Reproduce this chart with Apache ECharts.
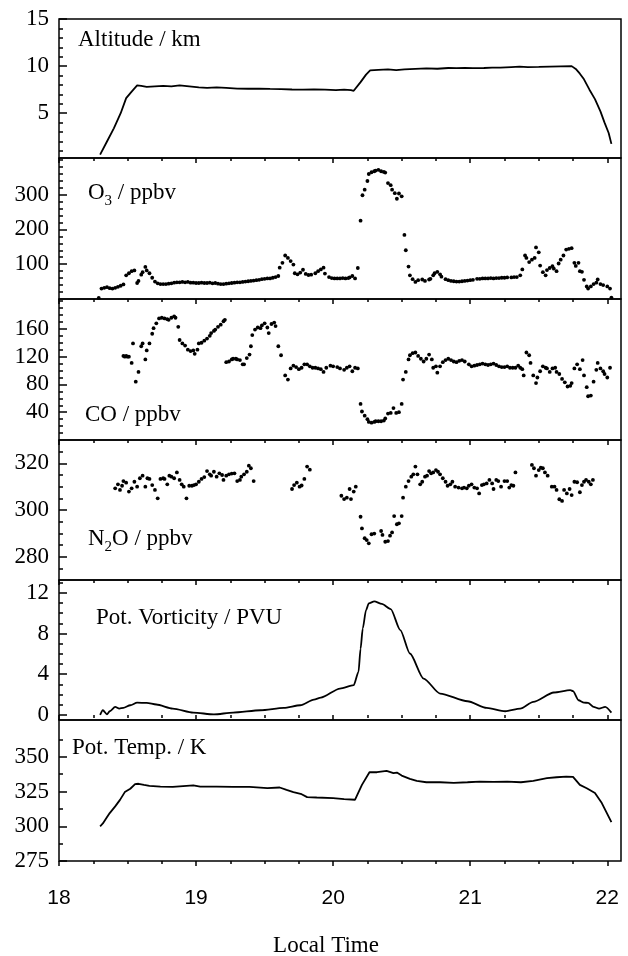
<!DOCTYPE html>
<html><head><meta charset="utf-8">
<script src="https://cdn.jsdelivr.net/npm/echarts@6/dist/echarts.min.js"></script>
<style>html,body{margin:0;padding:0;background:#fff}#c{width:628px;height:956px}</style>
</head><body><div id="c"></div>
<script>
// ---------------- DATA (time in hours local, value) ----------------
const altitude = [[18.30,0.6],[18.35,2.0],[18.40,3.4],[18.45,5.0],[18.49,6.6],[18.53,7.3],[18.57,7.95],[18.60,7.9],[18.64,7.8],[18.70,7.85],[18.76,7.9],[18.82,7.85],[18.88,7.95],[18.95,7.85],[19.02,7.75],[19.08,7.7],[19.15,7.75],[19.22,7.7],[19.30,7.62],[19.38,7.6],[19.46,7.62],[19.54,7.58],[19.62,7.55],[19.70,7.52],[19.78,7.5],[19.86,7.52],[19.94,7.5],[20.02,7.45],[20.08,7.5],[20.13,7.45],[20.15,7.38],[20.20,8.3],[20.24,9.1],[20.27,9.55],[20.33,9.6],[20.40,9.65],[20.46,9.58],[20.52,9.65],[20.60,9.7],[20.68,9.75],[20.76,9.72],[20.84,9.8],[20.90,9.78],[20.96,9.82],[21.02,9.78],[21.10,9.8],[21.16,9.85],[21.22,9.83],[21.30,9.9],[21.36,9.95],[21.42,9.9],[21.50,9.92],[21.58,9.95],[21.66,9.98],[21.74,10.0],[21.77,9.7],[21.80,9.2],[21.83,8.6],[21.87,7.5],[21.91,6.5],[21.95,5.2],[21.98,4.0],[22.01,2.9],[22.03,1.75]];

const ozone = [[18.29,3],[18.31,30],[18.33,32],[18.35,34],[18.37,31],[18.39,30],[18.41,32],[18.43,35],[18.45,38],[18.47,42],[18.49,68],[18.51,74],[18.53,80],[18.55,82],[18.57,46],[18.58,52],[18.60,70],[18.61,77],[18.63,92],[18.64,82],[18.66,74],[18.68,61],[18.70,50],[18.72,45],[18.74,43],[18.76,43],[18.78,43],[18.80,44],[18.82,45],[18.84,47],[18.86,48],[18.88,48],[18.90,49],[18.92,48],[18.94,49],[18.96,47],[18.98,47],[19.00,46],[19.02,46],[19.04,47],[19.06,46],[19.08,46],[19.10,47],[19.12,45],[19.14,46],[19.16,44],[19.18,43],[19.20,43],[19.22,44],[19.24,45],[19.26,46],[19.28,47],[19.30,48],[19.32,48],[19.34,49],[19.36,50],[19.38,51],[19.40,52],[19.42,53],[19.44,54],[19.46,55],[19.48,57],[19.50,58],[19.52,59],[19.54,59],[19.56,61],[19.58,63],[19.60,66],[19.61,90],[19.63,104],[19.65,125],[19.67,118],[19.69,109],[19.71,99],[19.72,74],[19.74,71],[19.76,76],[19.78,84],[19.80,72],[19.82,69],[19.84,70],[19.87,74],[19.89,80],[19.91,85],[19.93,90],[19.94,73],[19.97,63],[19.99,60],[20.01,59],[20.03,59],[20.05,59],[20.07,60],[20.09,59],[20.11,60],[20.12,62],[20.14,66],[20.16,59],[20.18,89],[20.20,225],[20.214,298],[20.23,314],[20.25,339],[20.26,359],[20.28,364],[20.30,367],[20.31,369],[20.33,371],[20.35,367],[20.37,365],[20.38,363],[20.40,333],[20.42,327],[20.43,314],[20.45,304],[20.465,288],[20.48,303],[20.50,295],[20.52,184],[20.53,140],[20.55,93],[20.56,68],[20.58,57],[20.60,49],[20.62,54],[20.65,56],[20.67,52],[20.70,56],[20.71,58],[20.73,68],[20.74,74],[20.76,78],[20.78,71],[20.79,64],[20.82,57],[20.84,54],[20.86,52],[20.88,51],[20.90,50],[20.92,50],[20.94,51],[20.96,52],[20.98,53],[21.00,54],[21.02,55],[21.05,58],[21.07,58],[21.09,59],[21.11,59],[21.13,59],[21.15,60],[21.17,59],[21.19,60],[21.21,60],[21.23,61],[21.25,61],[21.27,62],[21.30,62],[21.32,63],[21.34,63],[21.365,68],[21.38,85],[21.40,125],[21.41,118],[21.43,106],[21.45,113],[21.47,118],[21.48,148],[21.50,134],[21.51,96],[21.53,77],[21.55,68],[21.56,83],[21.58,89],[21.60,94],[21.61,87],[21.63,80],[21.645,102],[21.66,113],[21.68,125],[21.70,142],[21.72,144],[21.74,146],[21.76,104],[21.77,95],[21.79,104],[21.80,80],[21.815,78],[21.83,55],[21.85,36],[21.86,30],[21.88,36],[21.90,43],[21.92,47],[21.93,56],[21.95,43],[21.97,40],[22.00,36],[22.02,30],[22.03,4]];

const carbonMonoxide = [[18.47,121],[18.48,120],[18.49,121],[18.50,120],[18.51,120],[18.53,111],[18.54,139],[18.56,84],[18.58,98],[18.60,135],[18.61,139],[18.63,116],[18.64,129],[18.66,139],[18.68,153],[18.69,161],[18.71,168],[18.73,175],[18.75,176],[18.77,175],[18.79,174],[18.80,173],[18.82,176],[18.84,178],[18.85,176],[18.87,163],[18.88,144],[18.90,139],[18.92,136],[18.94,130],[18.96,128],[18.98,129],[18.99,124],[19.01,130],[19.02,139],[19.04,140],[19.06,143],[19.08,146],[19.10,150],[19.11,154],[19.13,157],[19.14,159],[19.16,163],[19.18,166],[19.20,171],[19.21,173],[19.22,112],[19.24,113],[19.26,116],[19.27,117],[19.29,117],[19.30,116],[19.32,115],[19.34,109],[19.35,109],[19.37,118],[19.39,123],[19.40,135],[19.41,151],[19.43,159],[19.45,162],[19.47,161],[19.48,165],[19.50,168],[19.52,162],[19.53,154],[19.55,167],[19.57,169],[19.58,164],[19.60,135],[19.62,122],[19.65,93],[19.67,87],[19.69,103],[19.71,107],[19.73,105],[19.75,102],[19.77,104],[19.79,109],[19.81,109],[19.83,106],[19.85,104],[19.87,104],[19.89,103],[19.91,102],[19.93,98],[19.95,104],[19.98,107],[20.00,106],[20.03,105],[20.05,103],[20.08,101],[20.10,104],[20.12,106],[20.14,99],[20.16,104],[20.18,103],[20.20,52],[20.21,41],[20.23,35],[20.25,30],[20.26,26],[20.28,25],[20.30,26],[20.31,27],[20.33,27],[20.35,27],[20.37,28],[20.38,31],[20.40,38],[20.42,39],[20.44,46],[20.46,39],[20.48,40],[20.50,52],[20.51,87],[20.53,98],[20.55,116],[20.56,122],[20.58,125],[20.60,126],[20.62,121],[20.64,117],[20.66,113],[20.68,117],[20.70,123],[20.72,116],[20.73,104],[20.75,106],[20.76,97],[20.78,106],[20.80,112],[20.82,115],[20.84,117],[20.86,115],[20.88,113],[20.90,112],[20.92,114],[20.94,115],[20.96,113],[20.99,109],[21.01,106],[21.03,107],[21.05,108],[21.07,109],[21.09,110],[21.11,109],[21.13,108],[21.15,109],[21.17,110],[21.19,108],[21.21,106],[21.23,105],[21.25,105],[21.27,106],[21.29,104],[21.31,104],[21.33,104],[21.35,107],[21.365,104],[21.38,102],[21.39,93],[21.41,126],[21.43,122],[21.44,111],[21.46,93],[21.48,82],[21.49,90],[21.51,99],[21.53,106],[21.55,104],[21.56,103],[21.58,98],[21.60,103],[21.62,104],[21.63,98],[21.65,95],[21.67,88],[21.69,83],[21.71,77],[21.73,78],[21.74,82],[21.76,103],[21.78,109],[21.80,102],[21.82,115],[21.83,93],[21.85,76],[21.86,63],[21.88,64],[21.90,84],[21.92,101],[21.93,111],[21.95,103],[21.97,99],[21.98,95],[22.00,90],[22.02,104]];

const nitrousOxide = [[18.41,309.3],[18.43,311],[18.445,308.6],[18.46,310.4],[18.47,312.4],[18.49,311.7],[18.51,307.9],[18.53,309.3],[18.55,312.1],[18.57,310],[18.59,313.6],[18.61,314.7],[18.63,310],[18.645,313.6],[18.66,313.3],[18.68,310.7],[18.70,308.6],[18.72,305],[18.74,313.3],[18.76,313.6],[18.77,313.3],[18.79,311],[18.805,314.7],[18.82,314.3],[18.84,313.6],[18.86,316.1],[18.88,312.9],[18.895,311],[18.91,310],[18.93,305],[18.95,310.4],[18.97,310.4],[18.985,310.7],[19.00,311],[19.02,312.1],[19.04,313.3],[19.06,314.1],[19.08,316.7],[19.10,315.3],[19.11,314.7],[19.13,316.4],[19.15,314.3],[19.17,315.7],[19.19,315],[19.20,312.9],[19.22,314.7],[19.24,315.3],[19.26,315.6],[19.28,315.7],[19.30,312.4],[19.32,312.9],[19.33,314.3],[19.35,315.3],[19.37,316.4],[19.385,319],[19.40,317.9],[19.42,312.4],[19.70,309],[19.715,310.7],[19.735,311.7],[19.755,310],[19.77,310.5],[19.79,313.3],[19.81,318.6],[19.83,317.3],[20.06,306.1],[20.08,304.7],[20.10,305.3],[20.12,309],[20.13,304.7],[20.15,307.9],[20.165,310],[20.20,297.1],[20.21,292.1],[20.23,287.9],[20.245,287.1],[20.26,285.7],[20.28,289.6],[20.30,289.9],[20.35,291],[20.36,289.3],[20.38,286.4],[20.40,286.7],[20.415,289],[20.43,290.4],[20.445,297.4],[20.465,293.9],[20.48,294.3],[20.50,297.4],[20.51,305.3],[20.53,310],[20.55,312.4],[20.57,314.3],[20.585,315.3],[20.60,318.6],[20.615,315.3],[20.635,311],[20.65,312.1],[20.67,314.3],[20.685,314.7],[20.70,316.7],[20.715,315.7],[20.73,316.1],[20.75,317.1],[20.765,316.4],[20.78,315.3],[20.80,313.6],[20.82,312.1],[20.835,310.4],[20.855,311],[20.87,312.1],[20.89,310],[20.915,309.6],[20.94,309.3],[20.955,309.6],[20.975,309.3],[20.99,310.4],[21.01,311],[21.03,309.6],[21.05,309.3],[21.065,307.1],[21.085,310.7],[21.10,311],[21.12,311.4],[21.14,312.9],[21.16,311.4],[21.17,309],[21.19,312.9],[21.205,312.4],[21.225,310],[21.25,312.4],[21.27,312.4],[21.285,309.6],[21.30,310.7],[21.315,310.4],[21.33,316.1],[21.45,319.3],[21.465,317.9],[21.48,314.7],[21.50,317.1],[21.515,318.1],[21.53,317.9],[21.545,316.1],[21.565,314.7],[21.595,310],[21.615,310],[21.63,308.6],[21.65,304.6],[21.67,303.9],[21.685,308.6],[21.705,307.1],[21.725,309],[21.74,306.4],[21.76,312.1],[21.78,311.9],[21.80,307.6],[21.815,310.7],[21.83,312.1],[21.845,312.9],[21.865,312.1],[21.88,311],[21.895,312.9]];

const potVorticity = [[18.30,0.0],[18.32,0.46],[18.35,0.05],[18.37,0.36],[18.41,0.79],[18.44,0.62],[18.47,0.69],[18.52,0.95],[18.57,1.2],[18.64,1.18],[18.71,1.02],[18.83,0.62],[18.98,0.23],[19.13,0.05],[19.27,0.23],[19.47,0.46],[19.64,0.69],[19.76,0.95],[19.86,1.5],[19.91,1.7],[20.05,2.59],[20.15,2.92],[20.185,4.23],[20.20,6.5],[20.216,8.49],[20.24,10.3],[20.26,10.95],[20.30,11.15],[20.355,10.9],[20.42,10.39],[20.49,8.33],[20.56,6.03],[20.66,3.57],[20.78,2.1],[20.98,1.34],[21.12,0.69],[21.255,0.36],[21.365,0.62],[21.46,1.28],[21.61,2.2],[21.73,2.43],[21.75,2.33],[21.79,1.44],[21.83,1.21],[21.86,1.18],[21.90,0.79],[21.94,0.62],[21.985,0.79],[22.03,0.23]];

const potTemperature = [[18.30,300],[18.32,302],[18.34,305],[18.37,309.5],[18.41,314.3],[18.445,319],[18.48,324.6],[18.52,327],[18.555,330.3],[18.58,330.6],[18.62,329.8],[18.66,329.1],[18.74,328.6],[18.83,328.4],[18.93,329.1],[18.98,329.4],[19.03,328.6],[19.15,328.6],[19.27,328.4],[19.39,328.4],[19.52,327.4],[19.61,327.9],[19.66,326.2],[19.71,324.6],[19.77,323.1],[19.81,321],[19.88,320.7],[20.00,320.3],[20.08,319.5],[20.16,319.1],[20.21,329.8],[20.265,338.9],[20.32,338.9],[20.39,339.9],[20.44,338.2],[20.465,338.7],[20.50,336.5],[20.56,334.1],[20.61,332.7],[20.68,331.7],[20.78,331.7],[20.88,331.3],[20.98,331.7],[21.07,332.2],[21.17,332],[21.27,332.2],[21.37,331.7],[21.46,332.7],[21.56,334.6],[21.63,335.3],[21.70,335.8],[21.75,335.6],[21.80,329.8],[21.85,327.4],[21.91,323.9],[21.96,316.7],[22.03,303]];

// tick labels / tick values
const timeLabels = [18,19,20,21,22];
const timeMinorTicks = [18.25,18.5,18.75,19.25,19.5,19.75,20.25,20.5,20.75,21.25,21.5,21.75];
const altLabels = [5,10,15];
const altMinor = [1,2,3,4,6,7,8,9,11,12,13,14];
const o3Labels = [100,200,300];
const o3Minor = [20,40,60,80,120,140,160,180,220,240,260,280,320,340,360,380,400];
const coLabels = [40,80,120,160];
const coMinor = [10,20,30,50,60,70,90,100,110,130,140,150,170,180,190,200];
const n2oLabels = [280,300,320];
const n2oMinor = [275,285,290,295,305,310,315,325];
const pvLabels = [0,4,8,12];
const pvMinor = [1,2,3,5,6,7,9,10,11,13];
const ptLabels = [275,300,325,350];
const ptMinor = [287.5,312.5,337.5,362.5];

// ---------------- LAYOUT / STYLE ----------------
const SERIF = '"Liberation Serif","Times New Roman",serif';
const SANS = '"Liberation Sans",Arial,sans-serif';
const tops = [19,158,299,440,580,720];
const bottoms = [158,299,440,580,720,861];
const yRanges = [[0.25,15],[0,405],[0,203],[270,330],[-0.5,13.25],[275,376.5]];
const yLab = [altLabels,o3Labels,coLabels,n2oLabels,pvLabels,ptLabels];
const yMin = [altMinor,o3Minor,coMinor,n2oMinor,pvMinor,ptMinor];
const tickStyle = {color:'#000', width:1.5};

const grid = [], xAxis = [], yAxis = [];
for (let i = 0; i < 6; i++) {
  grid.push({left:59, width:562, top:tops[i], height:bottoms[i]-tops[i], show:true,
    borderColor:'#000', borderWidth:1.5, backgroundColor:'transparent', containLabel:false});
  const last = i === 5;
  xAxis.push({gridIndex:i, type:'value', min:18, max:22.1, position:'bottom',
    axisLine:{show:false}, splitLine:{show:false},
    axisTick:{show:true, inside:false, length:5, lineStyle:tickStyle, customValues:timeLabels},
    axisLabel:last ? {show:true, customValues:timeLabels, margin:27, color:'#000', fontFamily:SANS, fontSize:21} : {show:false}});
  xAxis.push({gridIndex:i, type:'value', min:18, max:22.1, position:'bottom',
    axisLine:{show:false}, splitLine:{show:false},
    axisTick:{show:true, inside:false, length:3, lineStyle:tickStyle, customValues:timeMinorTicks},
    axisLabel:{show:false}});
  yAxis.push({gridIndex:i, type:'value', min:yRanges[i][0], max:yRanges[i][1], position:'left',
    axisLine:{show:false}, splitLine:{show:false},
    axisTick:{show:true, inside:true, length:8, lineStyle:tickStyle, customValues:yLab[i]},
    axisLabel:{show:true, customValues:yLab[i], margin:10, color:'#000', fontFamily:SERIF, fontSize:23}});
  yAxis.push({gridIndex:i, type:'value', min:yRanges[i][0], max:yRanges[i][1], position:'left',
    axisLine:{show:false}, splitLine:{show:false},
    axisTick:{show:true, inside:true, length:4, lineStyle:tickStyle, customValues:yMin[i]},
    axisLabel:{show:false}});
}

function lineSeries(i, data, smooth) {
  return {type:'line', xAxisIndex:2*i, yAxisIndex:2*i, data:data, symbol:'none', smooth:smooth||false,
    smoothMonotone:'x', lineStyle:{color:'#000', width:1.8}, silent:true};
}
function dotSeries(i, data) {
  return {type:'scatter', xAxisIndex:2*i, yAxisIndex:2*i, data:data, symbol:'circle', symbolSize:3.8,
    itemStyle:{color:'#000', opacity:1}, silent:true};
}

const titleFont = {fontFamily:SERIF, fontSize:23, fill:'#000'};
function title(x, y, text, rich) {
  const st = Object.assign({text:text, verticalAlign:'middle', align:'left'}, titleFont);
  if (rich) st.rich = rich;
  return {type:'text', x:x, y:y, style:st, silent:true};
}
const subRich = {
  a:{fontFamily:SERIF, fontSize:23, lineHeight:23, verticalAlign:'middle', fill:'#000'},
  s:{fontFamily:SERIF, fontSize:15, lineHeight:15, verticalAlign:'top', padding:[12,0,0,0], fill:'#000'}
};

const option = {
  animation:false,
  backgroundColor:'#fff',
  grid:grid, xAxis:xAxis, yAxis:yAxis,
  series:[
    lineSeries(0, altitude),
    dotSeries(1, ozone),
    dotSeries(2, carbonMonoxide),
    dotSeries(3, nitrousOxide),
    lineSeries(4, potVorticity, 0.25),
    lineSeries(5, potTemperature)
  ],
  graphic:[
    title(78, 40, 'Altitude / km'),
    title(88, 193, '{a|O}{s|3}{a| / ppbv}', subRich),
    title(85, 415, 'CO / ppbv'),
    title(88, 539, '{a|N}{s|2}{a|O / ppbv}', subRich),
    title(96, 618, 'Pot. Vorticity / PVU'),
    title(72, 748, 'Pot. Temp. / K'),
    {type:'text', x:326, y:946, silent:true,
      style:{text:'Local Time', fontFamily:SERIF, fontSize:23, fill:'#000', align:'center', verticalAlign:'middle'}}
  ]
};
const chart = echarts.init(document.getElementById('c'), null, {renderer:'canvas'});
chart.setOption(option);
</script></body></html>
